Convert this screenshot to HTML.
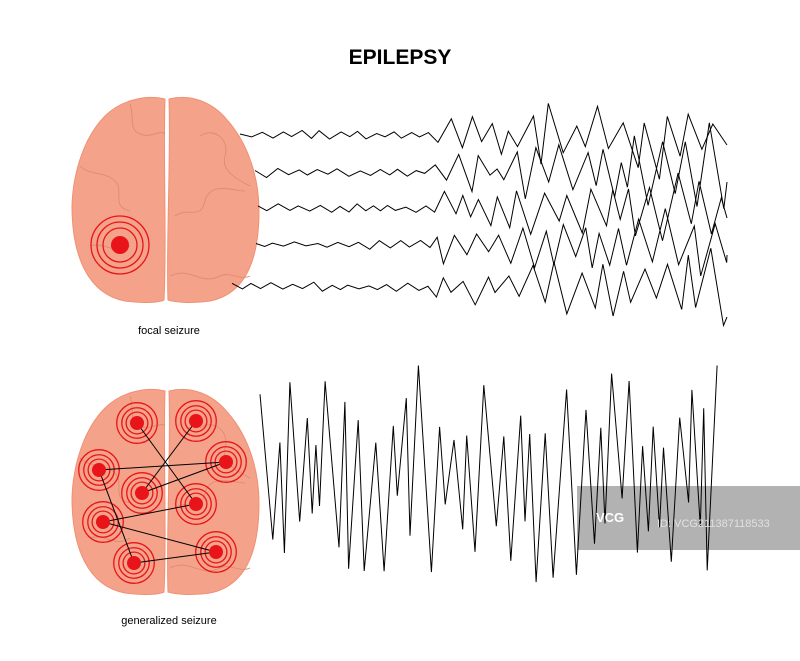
<!DOCTYPE html>
<html><head><meta charset="utf-8"><style>
body{margin:0;background:#fff;width:800px;height:661px;overflow:hidden}
svg{display:block}
text{font-family:"Liberation Sans",sans-serif}
</style></head><body>
<svg id="s" width="800" height="661" viewBox="0 0 800 661">
<text x="400" y="64" text-anchor="middle" font-size="21" font-weight="bold" fill="#000">EPILEPSY</text>
<text x="169" y="334" text-anchor="middle" font-size="11" fill="#000">focal seizure</text>
<text x="169" y="624" text-anchor="middle" font-size="11" fill="#000">generalized seizure</text>
<g id="b1"></g><g id="b2"></g>
<rect x="577" y="486" width="223" height="64" fill="#b2b2b2"/>
<g id="w"></g>
<text x="596" y="522" font-size="13" font-weight="bold" fill="#fff">VCG</text>
<text x="657" y="527" font-size="11" fill="#e0e0e0">ID: VCG211387118533</text>
</svg>
<script>
var NS="http://www.w3.org/2000/svg";
function el(p,t,a){var e=document.createElementNS(NS,t);for(var k in a)e.setAttribute(k,a[k]);p.appendChild(e);return e;}
function brain(g,y0){
 var L="M165,"+(y0+3)+" C145,"+(y0-2)+" 120,"+(y0+5)+" 105,"+(y0+20)+" C85,"+(y0+40)+" 73,"+(y0+75)+" 72,"+(y0+110)+" C72,"+(y0+160)+" 88,"+(y0+198)+" 125,"+(y0+205)+" C145,"+(y0+208)+" 160,"+(y0+206)+" 164,"+(y0+204)+" C167,"+(y0+150)+" 163,"+(y0+60)+" 165,"+(y0+3)+"Z";
 var R="M169,"+(y0+3)+" C190,"+(y0-2)+" 212,"+(y0+5)+" 228,"+(y0+25)+" C250,"+(y0+50)+" 259,"+(y0+85)+" 259,"+(y0+115)+" C259,"+(y0+165)+" 245,"+(y0+198)+" 210,"+(y0+205)+" C190,"+(y0+208)+" 175,"+(y0+206)+" 168,"+(y0+204)+" C166,"+(y0+150)+" 171,"+(y0+60)+" 169,"+(y0+3)+"Z";
 el(g,"path",{d:L,fill:"#f4a38a",stroke:"#f09074","stroke-width":1});
 el(g,"path",{d:R,fill:"#f4a38a",stroke:"#f09074","stroke-width":1});
 var gy=["M130,"+(y0+8)+" c5,15 -2,25 10,30 c10,5 20,-5 25,0","M80,"+(y0+70)+" c10,10 25,5 35,15 c10,10 -5,25 15,30","M200,"+(y0+40)+" c15,-10 30,5 25,20 c-5,15 15,25 25,30","M175,"+(y0+120)+" c15,-10 25,5 30,-15 c5,-20 30,-10 40,-10","M170,"+(y0+180)+" c20,-10 30,10 50,0 c10,-5 20,5 30,0","M90,"+(y0+150)+" c15,-5 25,10 40,0"];
 gy.forEach(function(d){el(g,"path",{d:d,fill:"none",stroke:"#d98a72","stroke-width":0.8});});
}
function target(g,x,y,s){
 [14,10.5,7.5].forEach(function(r){el(g,"circle",{cx:x,cy:y,r:r*s,fill:"none",stroke:"#e8141a","stroke-width":1.3});});
}
var b1=document.getElementById("b1"),b2=document.getElementById("b2");
brain(b1,96);brain(b2,388);
[29,23,17].forEach(function(r){el(b1,"circle",{cx:120,cy:245,r:r,fill:"none",stroke:"#e8141a","stroke-width":1.3});});
el(b1,"circle",{cx:120,cy:245,r:9,fill:"#e8141a"});
var P=[[137,423],[196,421],[226,462],[99,470],[142,493],[196,504],[103,522],[216,552],[134,563]];
P.forEach(function(p){target(b2,p[0],p[1],1.45);});
var E=[[0,5],[1,4],[3,2],[4,2],[6,5],[6,7],[3,8],[8,7]];
E.forEach(function(e){el(b2,"line",{x1:P[e[0]][0],y1:P[e[0]][1],x2:P[e[1]][0],y2:P[e[1]][1],stroke:"#000","stroke-width":1});});
P.forEach(function(p){el(b2,"circle",{cx:p[0],cy:p[1],r:7,fill:"#e8141a"});});
var seed=7;function rnd(){seed=(seed*16807)%2147483647;return seed/2147483647;}
var w=document.getElementById("w");
[[240,135],[255,172],[258,208],[256,245],[232,287]].forEach(function(s,i){
 var pts=[],x=s[0],up=true;
 while(x<727){
  var a,dx;
  if(x<435){a=2+rnd()*4;dx=7+rnd()*5;}
  else if(x<510){a=8+rnd()*16;dx=6+rnd()*8;}
  else {a=15+rnd()*30*(x-450)/280+10;dx=6+rnd()*10;}
  var yy=s[1]+(up?-1:1)*a*(0.3+rnd()*0.7);
  pts.push(x.toFixed(1)+","+yy.toFixed(1));x+=dx;up=!up;
 }
 pts.push("727,"+(s[1]+(i==4?30:10)));
 el(w,"polyline",{points:pts.join(" "),fill:"none",stroke:"#000","stroke-width":1});
});
var pts=[],x=260,up=true;seed=99;
while(x<727){
 var big=rnd()<0.35;var a=big?80+rnd()*30:20+rnd()*60;
 var yy=475+(up?-1:1)*a;
 pts.push(x.toFixed(1)+","+yy.toFixed(1));x+=big?8+rnd()*6:3+rnd()*6;up=!up;
}
el(w,"polyline",{points:pts.join(" "),fill:"none",stroke:"#000","stroke-width":1});
</script>
</body></html>
